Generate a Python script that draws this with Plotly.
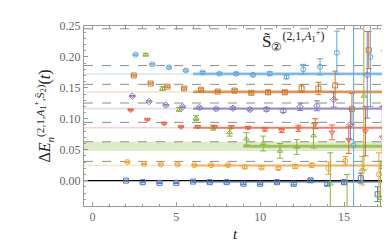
import plotly.graph_objects as go

# ---------------- data ----------------
t_vals = [2, 3, 4, 5, 6, 7, 8, 9, 10, 11, 12, 13, 14, 15, 16, 17]

blue_y = [0.000, -0.0025, -0.0036, -0.0036, -0.0015, -0.0025, -0.0025, -0.005, -0.005, -0.0025, -0.005, 0.0005, -0.005, -0.0025, 0.004, -0.022]
blue_e = [0.001, 0.001, 0.001, 0.001, 0.001, 0.0012, 0.0012, 0.0015, 0.0015, 0.0015, 0.002, 0.002, 0.003, 0.003, 0.008, 0.012]

orange_y = [0.030, 0.027, 0.026, 0.026, 0.025, 0.025, 0.025, 0.022, 0.021, 0.020, 0.023, 0.025, 0.020, 0.032, 0.016, 0.010]
orange_e = [0.001, 0.001, 0.001, 0.001, 0.0012, 0.0013, 0.0015, 0.002, 0.002, 0.002, 0.003, 0.003, 0.010, 0.007, 0.023, 0.035]

green_y = [None, 0.2036, 0.149, 0.115, 0.101, 0.0857, 0.078, 0.0676, 0.060, 0.048, 0.0545, 0.0727, -0.005, -0.06, 0.137, -0.0285]
green_e = [None, 0.002, 0.003, 0.003, 0.004, 0.004, 0.006, 0.010, 0.012, 0.012, 0.012, 0.020, 0.050, 0.07, 0.12, 0.06]

red_y = [0.114, 0.0988, 0.0925, 0.0868, 0.0872, 0.0868, 0.0868, 0.0857, 0.083, 0.081, 0.0847, 0.092, 0.078, 0.066, 0.080, 0.07]
red_e = [0.001, 0.001, 0.0012, 0.0012, 0.0015, 0.0015, 0.002, 0.002, 0.003, 0.003, 0.005, 0.008, 0.012, 0.022, 0.04, 0.05]

purple_y = [0.1366, 0.128, 0.122, 0.1195, 0.118, 0.116, 0.117, 0.115, 0.1153, 0.113, 0.1195, 0.121, 0.131, 0.091, 0.171, 0.12]
purple_e = [0.001, 0.001, 0.0012, 0.0012, 0.0015, 0.0015, 0.002, 0.002, 0.003, 0.003, 0.006, 0.008, 0.012, 0.025, 0.07, 0.09]

dorange_y = [0.170, 0.157, 0.152, 0.149, 0.147, 0.144, 0.1455, 0.142, 0.1428, 0.1428, 0.149, 0.149, 0.154, 0.116, 0.211, 0.12]
dorange_e = [0.001, 0.001, 0.0012, 0.0012, 0.0015, 0.0015, 0.002, 0.002, 0.003, 0.003, 0.006, 0.010, 0.023, 0.025, 0.03, 0.08]

lblue_y = [0.2036, 0.188, 0.183, 0.178, 0.175, 0.173, 0.173, 0.171, 0.173, 0.1678, 0.180, 0.184, 0.2067, 0.057, 0.200, None]
lblue_e = [0.001, 0.001, 0.0012, 0.0012, 0.0015, 0.0015, 0.002, 0.002, 0.003, 0.003, 0.008, 0.013, 0.035, 0.2, 0.08, None]

# fit results: central value, half width, fit start
fit_c = [-0.002, 0.0245, 0.0555, 0.0855, 0.1165, 0.1435, 0.1725]
fit_w = [0.0015, 0.0015, 0.0025, 0.0018, 0.0018, 0.0022, 0.0022]
fit_t0 = [6, 6, 9, 6, 6, 6, 6]
prior_w = [0.0008, 0.0012, 0.0075, 0.0012, 0.0012, 0.0012, 0.0012]

# non-interacting levels (dashed)
levels = [0.0311, 0.0628, 0.0942, 0.1255, 0.1557, 0.1860, 0.2455]

series = [
    ("n=0", blue_y, blue_e, "#4a78b8", "square-open"),
    ("n=1", orange_y, orange_e, "#eea236", "circle-open"),
    ("n=2", green_y, green_e, "#8ab33a", "triangle-up-open"),
    ("n=3", red_y, red_e, "#ec6040", "triangle-down-open"),
    ("n=4", purple_y, purple_e, "#8874c0", "diamond-open"),
    ("n=5", dorange_y, dorange_e, "#cf7a2c", "square-open"),
    ("n=6", lblue_y, lblue_e, "#63a8dc", "circle-open"),
]
offsets = [0.0, 0.08, 0.18, 0.28, 0.38, 0.47, 0.57]

X0, X1 = -0.5, 17.5
Y0, Y1 = -0.041, 0.25

def rgba(hexc, a):
    h = hexc.lstrip('#')
    r, g, b = int(h[0:2], 16), int(h[2:4], 16), int(h[4:6], 16)
    return f"rgba({r},{g},{b},{a})"

fig = go.Figure()

# bands
for k, (name, ys, es, col, sym) in enumerate(series):
    c, w, t0, pw = fit_c[k], fit_w[k], fit_t0[k], prior_w[k]
    if k != 0:
        fig.add_trace(go.Scatter(x=[X0, X1, X1, X0, X0], y=[c - pw, c - pw, c + pw, c + pw, c - pw],
                                 fill="toself", fillcolor=rgba(col, 0.28), line=dict(width=0),
                                 mode="lines", hoverinfo="skip", showlegend=False))
    fig.add_trace(go.Scatter(x=[t0, X1, X1, t0, t0], y=[c - w, c - w, c + w, c + w, c - w],
                             fill="toself", fillcolor=rgba(col, 0.75), line=dict(width=0),
                             mode="lines", hoverinfo="skip", showlegend=False))

# zero line
fig.add_trace(go.Scatter(x=[X0, X1], y=[0, 0], mode="lines", line=dict(color="black", width=1.2),
                         hoverinfo="skip", showlegend=False))

# points
for k, (name, ys, es, col, sym) in enumerate(series):
    xs = [t + offsets[k] for t, y in zip(t_vals, ys) if y is not None]
    yy = [y for y in ys if y is not None]
    ee = [e for y, e in zip(ys, es) if y is not None]
    fig.add_trace(go.Scatter(
        x=xs, y=yy, mode="markers", name=name, showlegend=False,
        marker=dict(symbol=sym, size=5, color=col, line=dict(width=1, color=col)),
        error_y=dict(type="data", array=ee, visible=True, color=col, thickness=1, width=3),
        cliponaxis=True,
    ))

# dashed levels
for lv in levels:
    fig.add_shape(type="line", xref="paper", x0=0, x1=1, yref="y", y0=lv, y1=lv,
                  line=dict(color="#8c8c8c", width=1, dash="dash"), layer="below")

serif = "Liberation Serif, DejaVu Serif, serif"

fig.add_annotation(x=10.0, y=0.226, xref="x", yref="y", showarrow=False, xanchor="left",
                   text="S\u0303<sub>\u2461</sub><sup>(2,1,<i>A</i><sub>1</sub><sup>+</sup>)</sup>",
                   font=dict(family=serif, size=17, color="#222"))

axis_common = dict(showline=True, linecolor="#999", linewidth=1, mirror="allticks",
                   ticks="inside", ticklen=4, tickcolor="#999", showgrid=False,
                   tickfont=dict(family=serif, size=12, color="#666"))

fig.update_xaxes(range=[X0, X1], tickvals=[0, 5, 10, 15], zeroline=False,
                 minor=dict(dtick=1, tick0=0, ticks="inside", ticklen=2, tickcolor="#999"),
                 title=dict(text="<i>t</i>", font=dict(family=serif, size=15, color="#222"), standoff=5),
                 **axis_common)
fig.update_yaxes(range=[Y0, Y1], tickvals=[0.0, 0.05, 0.10, 0.15, 0.20, 0.25],
                 ticktext=["0.00", "0.05", "0.10", "0.15", "0.20", "0.25"], zeroline=False,
                 minor=dict(dtick=0.01, tick0=0, ticks="inside", ticklen=2, tickcolor="#999"),
                 title=dict(text="\u0394<i>E</i><sub><i>n</i></sub><sup>(2,1,<i>A</i><sub>1</sub><sup>+</sup>,S\u0304<sub>2</sub>)</sup>(<i>t</i>)",
                            font=dict(family=serif, size=16, color="#222"), standoff=4),
                 **axis_common)

fig.update_layout(width=390, height=248, margin=dict(l=76, r=12, t=11, b=50),
                  plot_bgcolor="white", paper_bgcolor="white", showlegend=False)

fig.write_html("out.html")
